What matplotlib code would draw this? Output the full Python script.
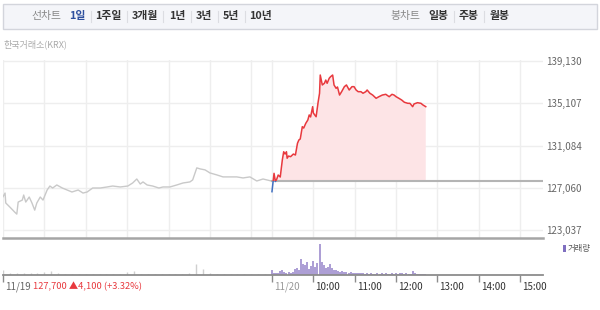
import matplotlib.pyplot as plt
from matplotlib.patches import Rectangle
from matplotlib.lines import Line2D
from matplotlib import transforms
import numpy as np

plt.rcParams['font.family'] = ['Noto Sans CJK KR', 'DejaVu Sans']

# previous close (11/19) and price axis ticks
prev_close = 127700
y_ticks = [123037, 127060, 131084, 135107, 139130]

# 11/19 intraday, minutes from 09:00
prev_min = [0, 3, 4, 10, 17, 20, 22, 28, 30, 33, 38, 42, 46, 49, 54, 58, 64, 68, 72, 78,
            86, 93, 100, 109, 116, 122, 130, 141, 151, 159, 170, 181, 188, 194, 199, 203,
            209, 217, 226, 232, 242, 252, 261, 271, 275, 281, 286, 293, 300, 310, 319, 329,
            339, 348, 358, 368, 377, 389]
prev_price = [126200, 126550, 125600, 125210, 124730, 124540, 125690, 125880, 126360, 125690,
              126170, 125600, 124920, 125600, 126170, 125880, 126840, 127220, 127030, 127320,
              127030, 126840, 126650, 126840, 126550, 126650, 127030, 127030, 127130, 127220,
              127130, 127220, 127510, 127890, 127410, 127610, 127320, 127220, 127030, 127130,
              127130, 127320, 127510, 127610, 127800, 128950, 128850, 128760, 128470, 128280,
              128090, 128090, 128090, 127990, 128090, 127700, 127890, 127700]

# 11/20 intraday, minutes from 09:00
today_min = [0, 3, 5, 7, 9, 12, 15, 17, 19, 21, 22, 24, 27, 31, 34, 37, 39, 41, 44, 46,
             49, 52, 54, 56, 59, 60, 62, 64, 67, 69, 70, 73, 76, 78, 80, 83, 85, 88, 90, 93,
             95, 98, 101, 105, 108, 112, 116, 119, 122, 125, 129, 132, 136, 138, 142, 146,
             151, 155, 160, 165, 170, 174, 177, 180, 184, 188, 192, 197, 200, 204, 206, 211,
             216, 219, 223]
today_price = [126680, 128430, 127650, 127890, 128270, 128080, 129700, 130490, 130270, 130490,
               129870, 130080, 130020, 130270, 130180, 131300, 131610, 131710, 132880, 132750,
               133200, 133520, 134000, 133810, 134790, 134190, 134000, 133830, 135260, 136070,
               137810, 136860, 137020, 137330, 137020, 137500, 137650, 137810, 136860, 136540,
               136670, 135900, 136220, 136700, 136860, 136380, 136700, 136700, 136380, 136220,
               136220, 136070, 136220, 136380, 136070, 135900, 135590, 135740, 135900, 135970,
               135740, 135970, 135900, 135740, 135590, 135430, 135210, 135110, 135110, 134790,
               135050, 135170, 135110, 134950, 134790]

# volume (11/19 every 10 min, 11/20 every 3 min)
prev_vol_min = list(range(0, 390, 10))
prev_vol = [50, 25, 20, 25, 20, 25, 30, 40, 20, 15, 15, 15, 12, 15, 12, 10, 12, 10, 30, 40,
            15, 15, 12, 10, 15, 12, 15, 20, 110, 60, 20, 15, 15, 12, 15, 12, 15, 12, 15]
today_vol_min = list(range(0, 225, 3))
today_vol = [50, 25, 20, 25, 45, 50, 35, 25, 30, 25, 35, 60, 70, 55, 160, 110, 100, 130, 60, 90,
             140, 80, 120, 310, 130, 100, 70, 80, 110, 70, 55, 50, 40, 35, 40, 30, 35, 25, 30, 20,
             25, 20, 20, 18, 20, 15, 18, 15, 20, 15, 15, 18, 15, 20, 15, 18, 15, 15, 18, 15,
             20, 15, 18, 20, 15, 25, 15, 15, 40, 20, 15, 15, 12, 10, 8]

hour_ticks = [0, 60, 120, 180, 240, 300, 360, 390, 450, 510, 570, 630, 690, 750]
vol_ticks = [0, 390, 450, 510, 570, 630, 690, 750]
vol_labels = ['11/19', '11/20', '10:00', '11:00', '12:00', '13:00', '14:00', '15:00']
vol_label_colors = ['#666666', '#999999', '#333333', '#333333', '#333333', '#333333', '#333333', '#333333']

W, H = 600, 310
fig = plt.figure(figsize=(W / 100, H / 100), dpi=100)


def px(x, y):
    return x / W, 1 - y / H


# header bar
fig.add_artist(Rectangle(px(3, 29), 594 / W, 25 / H, transform=fig.transFigure,
                         facecolor='#f4f5f9', edgecolor='#d3d5dc', lw=1))
header = [('선차트', 46, '#888888', 'normal'), ('1일', 77, '#2d4f9e', 'bold'),
          ('1주일', 108.5, '#333333', 'bold'), ('3개월', 145, '#333333', 'bold'),
          ('1년', 177, '#333333', 'bold'), ('3년', 204, '#333333', 'bold'),
          ('5년', 231, '#333333', 'bold'), ('10년', 261, '#333333', 'bold'),
          ('봉차트', 405.5, '#888888', 'normal'), ('일봉', 438, '#333333', 'bold'),
          ('주봉', 468.5, '#333333', 'bold'), ('월봉', 500, '#333333', 'bold')]
for txt, x, c, w in header:
    fig.text(*px(x, 16.5), txt, ha='center', va='center', fontsize=7.8, color=c, fontweight=w)
for x in [91, 127, 163, 191, 218, 245, 454, 484]:
    x0, y0 = px(x, 11)
    _, y1 = px(x, 22)
    fig.add_artist(Line2D([x0, x0], [y0, y1], transform=fig.transFigure, color='#dcdde2', lw=0.8))

fig.text(*px(3, 44), '한국거래소(KRX)', ha='left', va='center', fontsize=6.5, color='#aaaaaa')

# price panel
ax = fig.add_axes([3 / W, 1 - 238 / H, 540 / W, 178 / H])
ax.set_xlim(0, 783)
ax.set_ylim(122261, 139243)

x_today = np.array(today_min) + 390
p_today = np.array(today_price)

ax.plot(prev_min, prev_price, color='#c9c9c9', lw=1)
ax.fill_between(x_today, prev_close, p_today, where=p_today >= prev_close, interpolate=True,
                color='#fde4e6', lw=0)
ax.fill_between(x_today, prev_close, p_today, where=p_today <= prev_close, interpolate=True,
                color='#e1e9f7', lw=0)
ax.plot([390, 783], [prev_close, prev_close], color='#b4b4b4', lw=1.5)
up, = ax.plot(x_today, p_today, color='#e8393e', lw=1.1)
dn, = ax.plot(x_today, p_today, color='#3f6fc0', lw=1.1)
up.set_clip_path(Rectangle((0, prev_close), 783, 20000, transform=ax.transData))
dn.set_clip_path(Rectangle((0, 110000), 783, prev_close - 110000, transform=ax.transData))

ax.set_xticks(hour_ticks)
ax.set_yticks(y_ticks)
ax.set_yticklabels([f'{v:,}' for v in y_ticks])
ax.yaxis.tick_right()
ax.tick_params(axis='x', length=0, labelbottom=False)
ax.tick_params(axis='y', length=0, pad=2, labelsize=7, labelcolor='#666666')
ax.grid(color='#eeeeee', lw=1)
ax.set_axisbelow(True)
for s in ['top', 'left', 'right']:
    ax.spines[s].set_visible(False)
ax.spines['bottom'].set_color('#a5a5a5')
ax.spines['bottom'].set_linewidth(1.8)

# volume panel
av = fig.add_axes([3 / W, 1 - 275 / H, 540 / W, 35 / H])
av.set_xlim(0, 783)
av.set_ylim(0, 350)
av.vlines(prev_vol_min, 0, prev_vol, color='#cfcfcf', lw=1)
av.vlines(np.array(today_vol_min) + 390, 0, today_vol, color='#9d8ccd', lw=1.2)
av.set_yticks([])
for s in ['top', 'left', 'right']:
    av.spines[s].set_visible(False)
av.spines['bottom'].set_color('#8c8c8c')
av.spines['bottom'].set_linewidth(1.3)
av.set_xticks(vol_ticks)
av.set_xticklabels(vol_labels)
av.tick_params(axis='x', length=5, width=1, color='#8c8c8c', labelsize=7, pad=0)
shift = transforms.ScaledTranslation(2 / 100, 0, fig.dpi_scale_trans)
for lbl, c in zip(av.get_xticklabels(), vol_label_colors):
    lbl.set_ha('left')
    lbl.set_color(c)
    lbl.set_transform(lbl.get_transform() + shift)

fig.text(*px(33, 286.5), '127,700 ▲4,100 (+3.32%)', ha='left', va='center', fontsize=6.7,
         color='#e8393e')

# volume legend
fig.add_artist(Rectangle(px(563, 252), 2.5 / W, 7 / H, transform=fig.transFigure,
                         facecolor='#7f6fc0', lw=0))
fig.text(*px(568, 248.5), '거래량', ha='left', va='center', fontsize=6, color='#555555')

fig.savefig('out.png', dpi=100)
